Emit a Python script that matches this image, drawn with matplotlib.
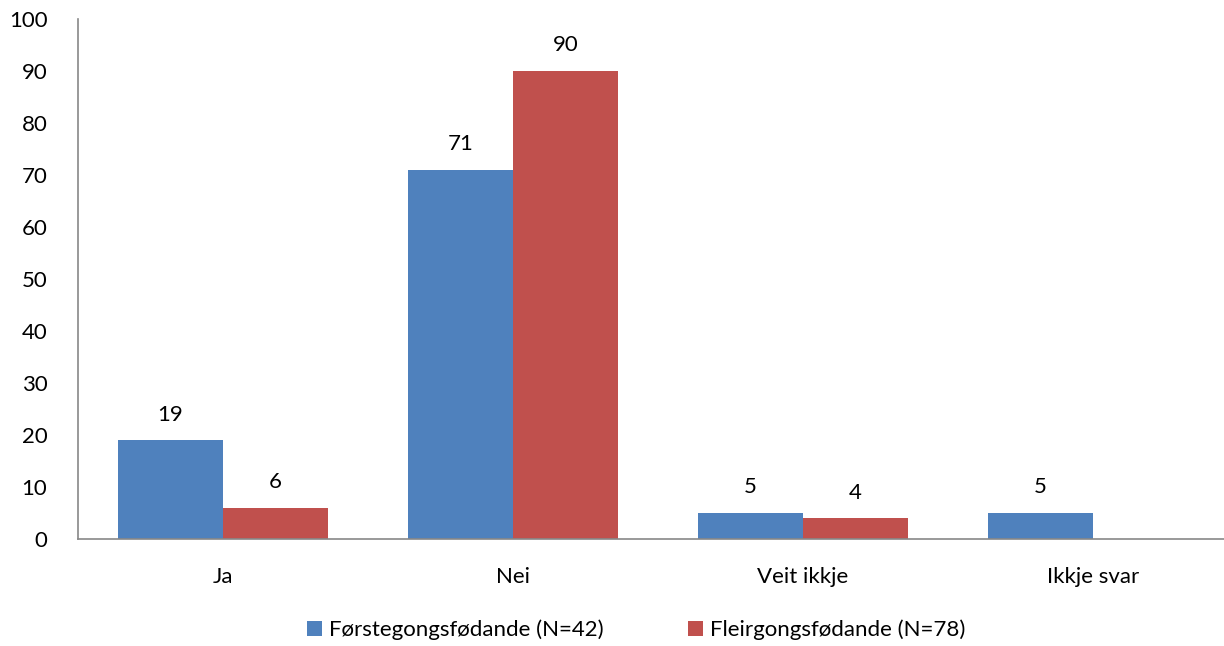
import matplotlib.pyplot as plt
import numpy as np

categories = ["Ja", "Nei", "Veit ikkje", "Ikkje svar"]
series_names = ["Førstegongsfødande (N=42)", "Fleirgongsfødande (N=78)"]
first_time = [19, 71, 5, 5]
multi_time = [6, 90, 4, None]
yticks = [0, 10, 20, 30, 40, 50, 60, 70, 80, 90, 100]

plt.rcParams['font.family'] = ['Lato', 'DejaVu Sans']
fs = 16
fig = plt.figure(figsize=(12.24, 6.46), dpi=100)
ax = fig.add_axes([78/1224, 1-539/646, 1-78/1224, (539-19)/646])

x = np.arange(len(categories))
w = 0.362
colors = ["#4F81BD", "#C0504D"]
for k, (vals, name) in enumerate(zip([first_time, multi_time], series_names)):
    xs = [xi + (k - 0.5) * w for xi, v in zip(x, vals) if v is not None]
    vs = [v for v in vals if v is not None]
    ax.bar(xs, vs, w, color=colors[k], label=name)
    for xi, v in zip(xs, vs):
        ax.text(xi, v + 3, str(v), ha='center', va='bottom', fontsize=fs)

ax.set_xlim(-0.5, (1224-78)/290 - 0.5)
ax.set_ylim(0, 100)
ax.set_yticks(yticks)
ax.set_xticks(x)
ax.set_xticklabels(categories)
ax.tick_params(axis='both', length=0, labelsize=fs)
ax.tick_params(axis='x', pad=20)
ax.tick_params(axis='y', pad=22)
for s in ['top', 'right']:
    ax.spines[s].set_visible(False)
for s in ['left', 'bottom']:
    ax.spines[s].set_color('#888888')
    ax.spines[s].set_linewidth(1.2)

fig.legend(loc='center', bbox_to_anchor=(636/1224, 1-630/646), ncol=2, frameon=False,
           fontsize=fs, handlelength=0.7, handleheight=0.7, handletextpad=0.3, columnspacing=3.8)
fig.savefig("out.png", dpi=100)
